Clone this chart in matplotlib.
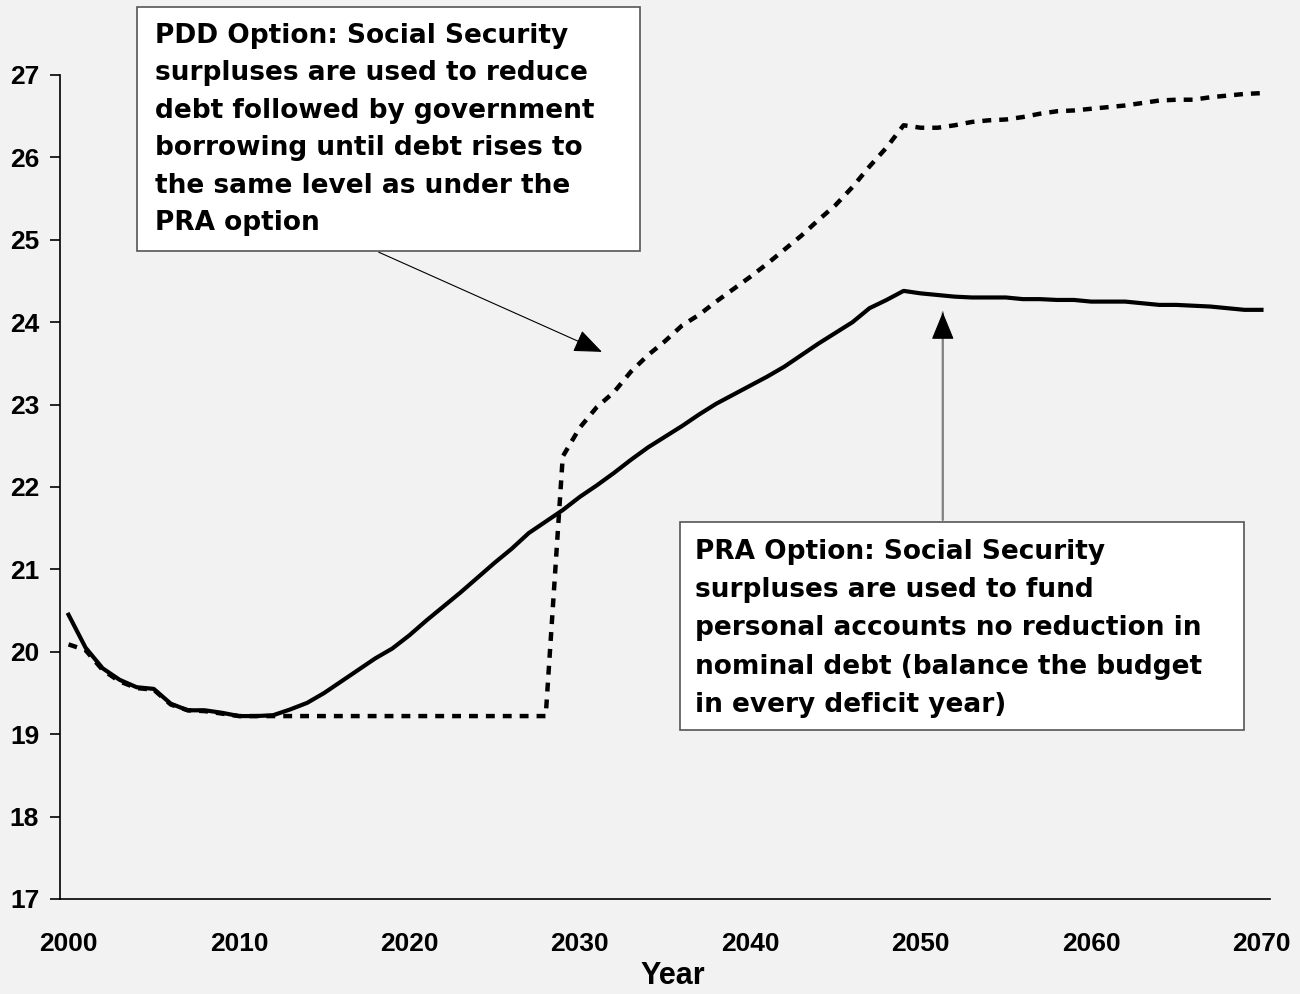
import numpy as np
import matplotlib.pyplot as plt
from matplotlib.patches import Rectangle

plt.rcParams['font.family'] = ['Liberation Sans', 'DejaVu Sans']
plt.rcParams['font.weight'] = 'bold'

years = np.arange(2000, 2071)

# PRA option (solid)
pra = [20.45, 20.05, 19.80, 19.66, 19.57, 19.55, 19.37, 19.29, 19.29, 19.26,
       19.22, 19.22, 19.23, 19.30, 19.38, 19.50, 19.64, 19.78, 19.92, 20.04,
       20.20, 20.38, 20.55, 20.72, 20.90, 21.08, 21.25, 21.44, 21.58, 21.72,
       21.88, 22.02, 22.17, 22.33, 22.48, 22.61, 22.74, 22.88, 23.01, 23.12,
       23.23, 23.34, 23.46, 23.60, 23.74, 23.87, 24.00, 24.17, 24.27, 24.38,
       24.35, 24.33, 24.31, 24.30, 24.30, 24.30, 24.28, 24.28, 24.27, 24.27,
       24.25, 24.25, 24.25, 24.23, 24.21, 24.21, 24.20, 24.19, 24.17, 24.15,
       24.15]

# PDD option (dashed)
pdd = [20.09, 20.02, 19.78, 19.64, 19.56, 19.54, 19.36, 19.29, 19.28, 19.25,
       19.22, 19.22, 19.22, 19.22, 19.22, 19.22, 19.22, 19.22, 19.22, 19.22,
       19.22, 19.22, 19.22, 19.22, 19.22, 19.22, 19.22, 19.22, 19.22, 22.37,
       22.72, 22.97, 23.15, 23.40, 23.60, 23.77, 23.96, 24.09, 24.25, 24.40,
       24.55, 24.71, 24.88, 25.05, 25.24, 25.42, 25.64, 25.89, 26.12, 26.39,
       26.36, 26.36, 26.39, 26.43, 26.45, 26.46, 26.49, 26.53, 26.56, 26.57,
       26.59, 26.61, 26.63, 26.66, 26.69, 26.70, 26.70, 26.73, 26.75, 26.77,
       26.78]

xticks = [2000, 2010, 2020, 2030, 2040, 2050, 2060, 2070]
yticks = list(range(17, 28))

pdd_lines = ["PDD Option: Social Security",
             "surpluses are used to reduce",
             "debt followed by government",
             "borrowing until debt rises to",
             "the same level as under the",
             "PRA option"]
pra_lines = ["PRA Option: Social Security",
             "surpluses are used to fund",
             "personal accounts no reduction in",
             "nominal debt (balance the budget",
             "in every deficit year)"]

W, H = 1300, 994
bg = '#f2f2f2'
fig = plt.figure(figsize=(W / 100, H / 100), dpi=100, facecolor=bg)
ax = fig.add_axes([60 / W, 1 - 899 / H, 1210 / W, 824 / H], facecolor=bg)

ax.plot(years, pra, color='black', lw=3.0, solid_joinstyle='round')
ax.plot(years, pdd, color='black', lw=3.2, linestyle=(0, (2.0, 1.8)))

ax.set_xlim(1999.5, 2070.5)
ax.set_ylim(17, 27)
ax.set_xticks(xticks)
ax.set_yticks(yticks)
ax.tick_params(axis='x', length=0, pad=24, labelsize=19)
ax.tick_params(axis='y', direction='out', length=7, width=1.2, pad=8, labelsize=19)
for s in ['top', 'right']:
    ax.spines[s].set_visible(False)
for s in ['left', 'bottom']:
    ax.spines[s].set_linewidth(1.2)
ax.set_xlabel('Year', fontsize=22, fontweight='bold')
ax.xaxis.set_label_coords(0.5066, -0.075)


def px(x, y):
    return x / W, 1 - y / H


def box(x0, y0, x1, y1, lines, tx, base0, step):
    r = Rectangle(px(x0, y1), (x1 - x0) / W, (y1 - y0) / H, transform=fig.transFigure,
                  facecolor='white', edgecolor='#555555', lw=1.2, zorder=5)
    fig.patches.append(r)
    for i, t in enumerate(lines):
        fig.text(*px(tx, base0 + i * step), t, fontsize=19, fontweight='bold',
                 family='DejaVu Sans', va='baseline', ha='left', zorder=6)


box(137, 7, 640, 251, pdd_lines, 155, 43, 37.4)
box(680, 522, 1244, 730, pra_lines, 695, 559, 38.2)

# arrows
ax.annotate('', xy=(2031.3, 23.64), xytext=(2018.2, 24.85),
            arrowprops=dict(arrowstyle='-|>,head_length=1.1,head_width=0.45',
                            mutation_scale=16, color='black', lw=0.8,
                            shrinkA=0, shrinkB=0))
ax.annotate('', xy=(2051.3, 24.12), xytext=(2051.3, 21.6),
            arrowprops=dict(arrowstyle='-', color='#808080', lw=1.6,
                            shrinkA=0, shrinkB=0))
ax.annotate('', xy=(2051.3, 24.12), xytext=(2051.3, 23.85),
            arrowprops=dict(arrowstyle='-|>,head_length=1.1,head_width=0.45',
                            mutation_scale=16, color='black', lw=0.8,
                            shrinkA=0, shrinkB=0))

fig.savefig('out.png', dpi=100, facecolor=bg)
